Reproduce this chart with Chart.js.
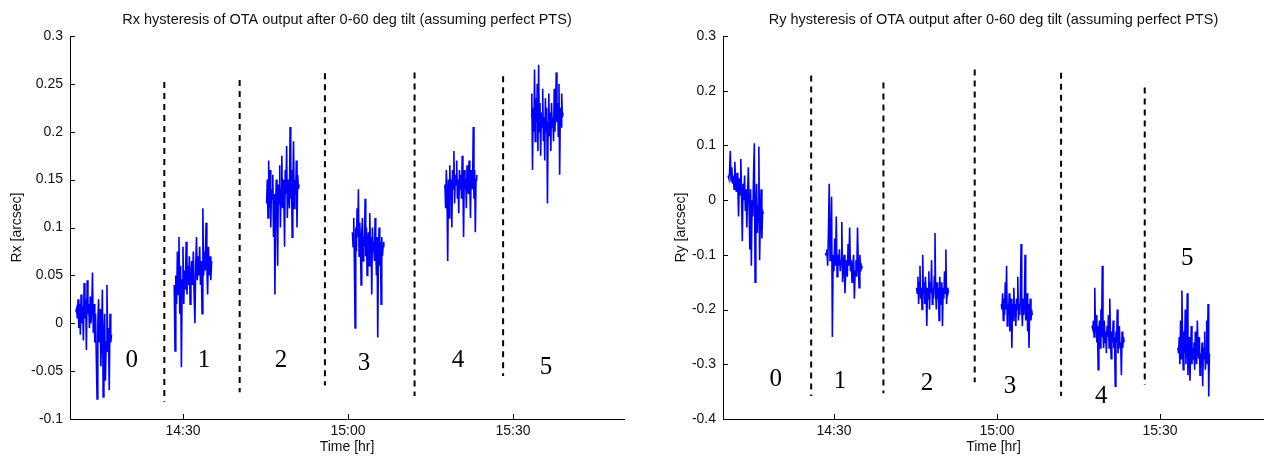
<!DOCTYPE html>
<html><head><meta charset="utf-8">
<script src="https://cdn.jsdelivr.net/npm/chart.js@4.4.1/dist/chart.umd.min.js"></script>
<style>
html,body{margin:0;padding:0;background:#fff;overflow:hidden;width:1264px;height:459px}
canvas{position:absolute;top:0}
#c1{left:0;width:640px;height:459px}
#c2{left:640px;width:624px;height:459px}
</style></head><body>
<canvas id="c1" width="640" height="459"></canvas>
<canvas id="c2" width="624" height="459"></canvas>
<script>
// time of each measurement segment, minutes after 14:00
const segStart = [10.5, 28.4, 45.2, 60.8, 77.5, 93.3];
const segEnd   = [17.0, 35.2, 51.1, 66.5, 83.4, 99.1];

// Rx [arcsec] samples per segment
const rx0 = [0.012,0.015,0.005,0.025,-0.005,0.02,-0.012,0.03,0.0,0.018,-0.018,0.042,0.005,0.025,-0.028,0.045,0.01,0.02,-0.005,0.028,0.0,0.015,0.053,-0.01,0.02,-0.02,0.01,-0.035,-0.079,0.0,0.025,-0.02,0.015,-0.045,-0.01,0.035,-0.077,-0.015,0.01,-0.06,-0.02,0.04,-0.03,-0.005,-0.07,0.01,-0.02,-0.012];
const rx1 = [0.04,-0.029,0.05,0.02,0.075,0.03,0.09,0.01,0.06,-0.046,0.045,0.08,0.02,0.055,0.035,0.085,0.03,0.06,0.04,0.07,0.02,0.05,0.065,0.04,0.075,0.03,0.0,0.06,0.09,0.045,0.07,0.05,0.08,0.04,0.065,0.01,0.12,0.05,0.075,0.055,0.105,0.06,0.03,0.08,0.05,0.07,0.045,0.065];
const rx2 = [0.125,0.15,0.11,0.17,0.12,0.16,0.1,0.14,0.13,0.155,0.09,0.135,0.03,0.12,0.15,0.11,0.06,0.145,0.125,0.165,0.1,0.14,0.175,0.12,0.15,0.13,0.08,0.16,0.135,0.185,0.11,0.15,0.14,0.12,0.205,0.13,0.16,0.09,0.145,0.19,0.12,0.15,0.135,0.17,0.1,0.155,0.14,0.145];
const rx3 = [0.095,0.08,0.11,0.06,-0.005,0.1,0.075,0.12,0.09,0.14,0.07,0.105,0.085,0.04,0.095,0.11,0.065,0.09,0.08,0.13,0.07,0.1,0.05,0.085,0.095,0.06,0.115,0.08,0.09,0.03,0.1,0.075,0.085,0.065,0.11,0.08,0.05,0.09,-0.015,0.075,0.1,0.06,0.085,0.02,0.09,0.07,0.08,0.085];
const rx4 = [0.14,0.145,0.12,0.16,0.13,0.065,0.15,0.11,0.165,0.135,0.15,0.1,0.16,0.14,0.18,0.125,0.155,0.145,0.17,0.13,0.15,0.115,0.16,0.14,0.155,0.13,0.175,0.145,0.09,0.16,0.14,0.15,0.12,0.165,0.15,0.135,0.17,0.145,0.11,0.16,0.15,0.14,0.205,0.13,0.16,0.095,0.15,0.155];
const rx5 = [0.215,0.24,0.16,0.225,0.2,0.265,0.19,0.235,0.21,0.25,0.18,0.27,0.2,0.23,0.175,0.22,0.205,0.245,0.19,0.215,0.17,0.235,0.2,0.225,0.125,0.21,0.24,0.195,0.22,0.18,0.23,0.205,0.215,0.19,0.245,0.2,0.225,0.262,0.21,0.23,0.195,0.25,0.155,0.225,0.205,0.24,0.215,0.22];

// Ry [arcsec] samples per segment
const ry0 = [0.045,0.04,0.05,0.09,0.035,0.06,0.03,0.045,0.02,0.07,0.03,0.015,0.05,0.025,-0.03,0.04,0.01,0.075,0.005,-0.075,0.03,0.0,0.045,-0.02,0.02,-0.05,0.01,0.06,-0.01,-0.09,0.02,-0.12,0.0,-0.03,0.05,0.104,-0.15,-0.02,0.03,-0.06,-0.01,0.098,-0.11,-0.03,0.02,-0.07,-0.02,-0.025];
const ry1 = [-0.097,-0.1,-0.09,-0.12,-0.06,0.03,-0.11,-0.08,0.006,-0.25,-0.1,-0.13,-0.07,-0.12,-0.03,-0.14,-0.1,-0.12,-0.09,-0.13,-0.11,-0.04,-0.15,-0.12,-0.1,-0.17,-0.13,-0.11,-0.14,-0.08,-0.12,-0.05,-0.13,-0.11,-0.15,-0.12,-0.1,-0.18,-0.13,-0.11,-0.14,-0.05,-0.12,-0.16,-0.1,-0.13,-0.12,-0.125];
const ry2 = [-0.16,-0.17,-0.14,-0.19,-0.15,-0.12,-0.18,-0.16,-0.2,-0.1,-0.17,-0.15,-0.19,-0.14,-0.17,-0.23,-0.16,-0.18,-0.13,-0.2,-0.15,-0.17,-0.11,-0.19,-0.16,-0.18,-0.14,-0.06,-0.17,-0.2,-0.15,-0.18,-0.16,-0.22,-0.14,-0.17,-0.19,-0.15,-0.23,-0.16,-0.18,-0.13,-0.17,-0.09,-0.19,-0.16,-0.17,-0.165];
const ry3 = [-0.19,-0.2,-0.17,-0.22,-0.18,-0.21,-0.15,-0.2,-0.12,-0.23,-0.19,-0.21,-0.17,-0.24,-0.2,-0.18,-0.27,-0.19,-0.22,-0.16,-0.21,-0.19,-0.23,-0.18,-0.2,-0.14,-0.22,-0.19,-0.21,-0.17,-0.08,-0.2,-0.23,-0.18,-0.21,-0.19,-0.1,-0.22,-0.2,-0.17,-0.24,-0.19,-0.27,-0.2,-0.18,-0.22,-0.2,-0.21];
const ry4 = [-0.23,-0.235,-0.22,-0.25,-0.16,-0.24,-0.21,-0.26,-0.23,-0.31,-0.24,-0.22,-0.27,-0.2,-0.25,-0.12,-0.24,-0.27,-0.22,-0.26,-0.24,-0.28,-0.23,-0.25,-0.21,-0.27,-0.18,-0.25,-0.29,-0.24,-0.26,-0.22,-0.27,-0.25,-0.34,-0.24,-0.26,-0.2,-0.28,-0.25,-0.23,-0.27,-0.26,-0.32,-0.24,-0.27,-0.25,-0.26];
const ry5 = [-0.27,-0.28,-0.25,-0.3,-0.22,-0.29,-0.165,-0.26,-0.31,-0.24,-0.28,-0.2,-0.3,-0.26,-0.17,-0.32,-0.27,-0.25,-0.33,-0.28,-0.23,-0.3,-0.27,-0.29,-0.26,-0.31,-0.24,-0.28,-0.3,-0.22,-0.27,-0.29,-0.25,-0.32,-0.28,-0.3,-0.26,-0.34,-0.27,-0.29,-0.24,-0.31,-0.28,-0.22,-0.3,-0.19,-0.359,-0.28];

// axis ticks
const xTickValues = [30, 60, 90];
const xTickLabels = ['14:30', '15:00', '15:30'];
const rxTickValues = [-0.1, -0.05, 0, 0.05, 0.1, 0.15, 0.2, 0.25, 0.3];
const rxTickLabels = ['-0.1', '-0.05', '0', '0.05', '0.1', '0.15', '0.2', '0.25', '0.3'];
const ryTickValues = [-0.4, -0.3, -0.2, -0.1, 0, 0.1, 0.2, 0.3];
const ryTickLabels = ['-0.4', '-0.3', '-0.2', '-0.1', '0', '0.1', '0.2', '0.3'];

// tilt-step separators (dashed)
const dashXRx   = [26.6, 40.3, 55.8, 72.1, 88.2];
const dashTopRx = [0.252, 0.254, 0.261, 0.262, 0.258];
const dashBotRx = [-0.082, -0.072, -0.065, -0.076, -0.055];
const dashXRy   = [25.8, 39.1, 55.9, 71.8, 87.2];
const dashTopRy = [0.228, 0.215, 0.239, 0.233, 0.206];
const dashBotRy = [-0.358, -0.353, -0.333, -0.358, -0.338];

// step numbers
const stageLabels = ['0', '1', '2', '3', '4', '5'];
const stageXRx = [20.7, 33.8, 47.8, 62.9, 80.0, 96.0];
const stageYRx = [-0.039, -0.039, -0.039, -0.042, -0.039, -0.046];
const stageXRy = [19.3, 31.1, 47.1, 62.4, 79.2, 95.0];
const stageYRy = [-0.328, -0.331, -0.335, -0.340, -0.358, -0.107];

const SANS = '"Liberation Sans", Arial, sans-serif';
const TXT = '#111';

const decor = {
  id: 'decor',
  afterDraw(chart, args, opts) {
    const {ctx, chartArea, scales: {x, y}} = chart;
    ctx.save();
    ctx.strokeStyle = '#000';
    ctx.lineWidth = 1;
    ctx.beginPath();
    x.ticks.forEach(t => {
      const px = Math.round(x.getPixelForValue(t.value)) + 0.5;
      ctx.moveTo(px, chartArea.bottom);
      ctx.lineTo(px, chartArea.bottom - 5);
    });
    y.ticks.forEach(t => {
      const py = Math.round(y.getPixelForValue(t.value)) + 0.5;
      ctx.moveTo(chartArea.left, py);
      ctx.lineTo(chartArea.left + 5, py);
    });
    ctx.stroke();
    ctx.fillStyle = '#000';
    ctx.font = '25px "Liberation Serif", "Times New Roman", serif';
    ctx.textAlign = 'center';
    ctx.textBaseline = 'middle';
    opts.labels.forEach((s, k) => {
      ctx.fillText(s, x.getPixelForValue(opts.lx[k]), y.getPixelForValue(opts.ly[k]));
    });
    ctx.restore();
  }
};

function buildChart(id, o) {
  const datasets = [];
  o.segments.forEach((vals, s) => {
    const step = (segEnd[s] - segStart[s]) / (vals.length - 1);
    datasets.push({
      data: vals.map((v, i) => ({x: segStart[s] + i * step, y: v})),
      borderColor: '#0000ff', borderWidth: 1.6, pointRadius: 0, tension: 0, fill: false
    });
  });
  o.dashX.forEach((xv, k) => {
    datasets.push({
      data: [{x: xv, y: o.dashTop[k]}, {x: xv, y: o.dashBot[k]}],
      borderColor: '#000', borderWidth: 2, borderDash: [6, 5], pointRadius: 0, fill: false
    });
  });
  return new Chart(document.getElementById(id), {
    type: 'line',
    data: {datasets},
    options: {
      responsive: false, animation: false, devicePixelRatio: 1,
      layout: {padding: {left: 0, right: o.padRight, top: 0, bottom: 0}},
      plugins: {
        legend: {display: false}, tooltip: {enabled: false},
        title: {display: true, text: o.title, fullSize: false, color: TXT,
          font: {family: SANS, size: 14.5, weight: 'normal'}, padding: {top: 11, bottom: 7.6}},
        decor: {labels: stageLabels, lx: o.stageX, ly: o.stageY}
      },
      scales: {
        x: {
          type: 'linear', min: o.xMin, max: o.xMax,
          afterFit(s) { s.height = 40; },
          afterBuildTicks(s) { s.ticks = xTickValues.map(v => ({value: v})); },
          ticks: {callback: v => xTickLabels[xTickValues.indexOf(v)], padding: 4, color: TXT,
            font: {family: SANS, size: 14}, maxRotation: 0, autoSkip: false},
          grid: {display: true, drawOnChartArea: false, drawTicks: false},
          border: {display: true, color: '#000', width: 1},
          title: {display: true, text: 'Time [hr]', color: TXT, font: {family: SANS, size: 14},
            padding: {top: 0, bottom: 3.8}}
        },
        y: {
          type: 'linear', min: o.yMin, max: o.yMax,
          afterFit(s) { s.width = o.yWidth; },
          afterBuildTicks(s) { s.ticks = o.yTicks.map(v => ({value: v})); },
          ticks: {callback: v => o.yLabels[o.yTicks.indexOf(v)], padding: 7, color: TXT,
            font: {family: SANS, size: 14}, autoSkip: false},
          grid: {display: true, drawOnChartArea: false, drawTicks: false},
          border: {display: true, color: '#000', width: 1},
          title: {display: true, text: o.yTitle, color: TXT, font: {family: SANS, size: 14},
            padding: {top: o.yTitlePad, bottom: 0}}
        }
      }
    },
    plugins: [decor]
  });
}

buildChart('c1', {
  title: 'Rx hysteresis of OTA output after 0-60 deg tilt (assuming perfect PTS)',
  yTitle: 'Rx [arcsec]', yTitlePad: 8.8, yWidth: 70, padRight: 16,
  xMin: 9.45, xMax: 110.18, yMin: -0.1, yMax: 0.3,
  yTicks: rxTickValues, yLabels: rxTickLabels,
  segments: [rx0, rx1, rx2, rx3, rx4, rx5],
  dashX: dashXRx, dashTop: dashTopRx, dashBot: dashBotRx,
  stageX: stageXRx, stageY: stageYRx
});
buildChart('c2', {
  title: 'Ry hysteresis of OTA output after 0-60 deg tilt (assuming perfect PTS)',
  yTitle: 'Ry [arcsec]', yTitlePad: 32.8, yWidth: 83, padRight: 0,
  xMin: 9.57, xMax: 109.15, yMin: -0.4, yMax: 0.3,
  yTicks: ryTickValues, yLabels: ryTickLabels,
  segments: [ry0, ry1, ry2, ry3, ry4, ry5],
  dashX: dashXRy, dashTop: dashTopRy, dashBot: dashBotRy,
  stageX: stageXRy, stageY: stageYRy
});
</script>
</body></html>
